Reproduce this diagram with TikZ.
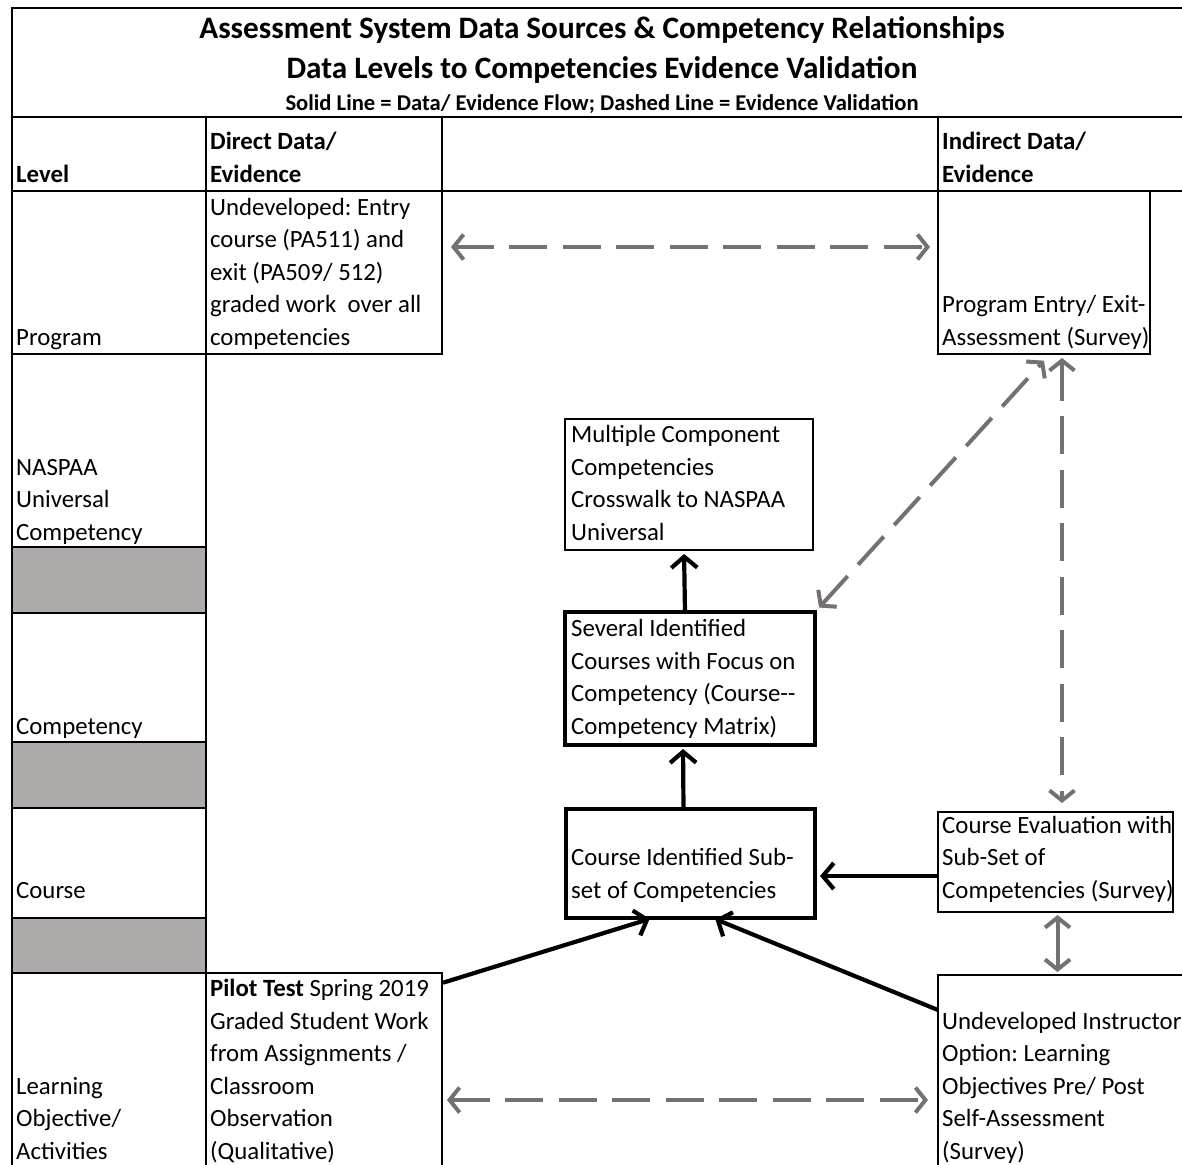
\documentclass[tikz,border=0pt]{standalone}
\usepackage{fontspec}
\setmainfont{Carlito}
\usetikzlibrary{arrows.meta}
\definecolor{cellgray}{HTML}{AEAAAA}
\definecolor{linkgray}{HTML}{767171}
\frenchspacing
\newcommand{\bodyfont}{\fontsize{24.8}{32.5}\selectfont}
\newcommand{\titlefont}{\fontsize{31.2}{36}\selectfont\bfseries}
\newcommand{\notefont}{\fontsize{22.6}{26}\selectfont\bfseries}
\begin{document}
\begin{tikzpicture}[x=1pt,y=-1pt,
  grid/.style={line width=2.5pt, line cap=rect},
  txt/.style={anchor=base west, align=left, inner sep=0pt, font=\bodyfont},
  cell/.style={draw, line width=2.5pt, anchor=north west, inner sep=0pt, outer sep=0pt},
  thinbox/.style={draw, line width=2pt, anchor=north west, inner sep=0pt, outer sep=0pt},
  thickbox/.style={draw, line width=4.5pt, anchor=north west, inner sep=0pt, outer sep=0pt},
  flow/.style={line width=4.2pt, -{Straight Barb[length=11pt,width=26pt]}},
  check/.style={draw=linkgray, line width=4pt, dash pattern=on 38pt off 15.5pt, {Straight Barb[length=10pt,width=25pt]}-{Straight Barb[length=10pt,width=25pt]}},
  link/.style={draw=linkgray, line width=4pt, {Straight Barb[length=10pt,width=25pt]}-{Straight Barb[length=10pt,width=25pt]}},
]
\useasboundingbox (0,0) rectangle (1182,1164);

% shaded spacer cells of the level column
\fill[cellgray] (12,547) rectangle (206,613);
\fill[cellgray] (12,742) rectangle (206,808);
\fill[cellgray] (12,918) rectangle (206,973);

% table frame and rules
\draw[grid] (12,8) -- (1200,8);
\draw[grid] (12,8) -- (12,1180);
\draw[grid] (12,117) -- (1200,117);
\draw[grid] (12,191) -- (1200,191);
\draw[grid] (206,117) -- (206,1180);
\draw[grid] (442,117) -- (442,191);
\draw[grid] (938,117) -- (938,191);
\foreach \y in {354,547,613,742,808,918,973}
  \draw[grid] (12,\y) -- (206,\y);

% titles
\node[font=\titlefont, inner sep=0pt] (title) at (602,30) {Assessment System Data Sources \& Competency Relationships};
\node[font=\titlefont, inner sep=0pt] (subtitle) at (602,70) {Data Levels to Competencies Evidence Validation};
\node[font=\notefont, inner sep=0pt] (legend) at (602,104) {Solid Line = Data/ Evidence Flow; Dashed Line = Evidence Validation};

% column headings (texts sit on the bottom of their cells)
\node[txt, font=\bodyfont\bfseries] (h-level) at (16,182) {Level};
\node[txt, font=\bodyfont\bfseries] (h-direct) at (210,182) {Direct Data/\\Evidence};
\node[txt, font=\bodyfont\bfseries] (h-indirect) at (942,182) {Indirect Data/\\Evidence};

% level labels
\node[txt] (l-program) at (16,345) {Program};
\node[txt] (l-naspaa) at (16,540) {NASPAA\\Universal\\Competency};
\node[txt] (l-comp) at (16,734) {Competency};
\node[txt] (l-course) at (16,898) {Course};
\node[txt] (l-learn) at (16,1159) {Learning\\Objective/\\Activities};

% evidence boxes
\node[cell, minimum width=236pt, minimum height=163pt] (dprog) at (206,191) {};
\node[txt] (t-dprog) at (210,345) {Undeveloped: Entry\\course (PA511) and\\exit (PA509/ 512)\\graded work\ \ over all\\competencies};

\node[cell, minimum width=212pt, minimum height=163pt] (iprog) at (938,191) {};
\node[txt] (t-iprog) at (942,345) {Program Entry/ Exit-\\Assessment (Survey)};

\node[thinbox, minimum width=248pt, minimum height=131pt] (multi) at (565,419) {};
\node[txt] (t-multi) at (571,540) {Multiple Component\\Competencies\\Crosswalk to NASPAA\\Universal};

\node[thickbox, minimum width=250pt, minimum height=133pt] (several) at (565,612) {};
\node[txt] (t-several) at (571,734) {Several Identified\\Courses with Focus on\\Competency (Course-{}-\\Competency Matrix)};

\node[thickbox, minimum width=249pt, minimum height=109pt] (coursesub) at (566,809) {};
\node[txt] (t-coursesub) at (571,898) {Course Identified Sub-\\set of Competencies};

\node[thinbox, minimum width=235pt, minimum height=100pt] (eval) at (938,812) {};
\node[txt] (t-eval) at (942,898) {Course Evaluation with\\Sub-Set of\\Competencies (Survey)};

\node[cell, minimum width=236pt, minimum height=210pt] (pilot) at (206,973) {};
\node[txt] (t-pilot) at (210,1159) {\textbf{Pilot Test} Spring 2019\\Graded Student Work\\from Assignments /\\Classroom\\Observation\\(Qualitative)};

\node[cell, minimum width=260pt, minimum height=210pt] (instr) at (938,975) {};
\node[txt] (t-instr) at (942,1159) {Undeveloped Instructor\\Option: Learning\\Objectives Pre/ Post\\Self-Assessment\\(Survey)};

% data / evidence flow
\coordinate (rowcourse) at (0,876);
\draw[flow, shorten >=4pt] ([xshift=-5pt]several.north) -- ([xshift=-5pt]multi.south);
\draw[flow, shorten >=4pt] ([xshift=-7pt]coursesub.north) -- ([xshift=-7pt]several.south);
\draw[flow, shorten >=5pt] (eval.west |- rowcourse) -- (coursesub.east |- rowcourse);
\draw[flow, shorten <=1pt, shorten >=3pt] ([yshift=-10pt]pilot.north east) -- ([xshift=-38pt]coursesub.south);
\draw[flow, shorten >=3pt] ([yshift=-35pt]instr.north west) -- ([xshift=22pt]coursesub.south);

% evidence validation
\coordinate (rowprog) at (0,247);
\coordinate (rowlearn) at (0,1100);
\draw[check, shorten <=9pt, shorten >=8pt] (dprog.east |- rowprog) -- (iprog.west |- rowprog);
\draw[check, shorten <=5pt, shorten >=10pt] (pilot.east |- rowlearn) -- (instr.west |- rowlearn);
\draw[check, shorten <=6pt, shorten >=9pt] (several.north east) -- ([xshift=6pt]iprog.south);
\draw[check, shorten <=4pt, shorten >=9pt] ([xshift=18pt]iprog.south) -- ([xshift=18pt]iprog.south |- eval.north);
\draw[link, shorten <=3pt, shorten >=3pt] ([xshift=2pt]eval.south) -- ([xshift=2pt]eval.south |- instr.north);
\end{tikzpicture}
\end{document}
